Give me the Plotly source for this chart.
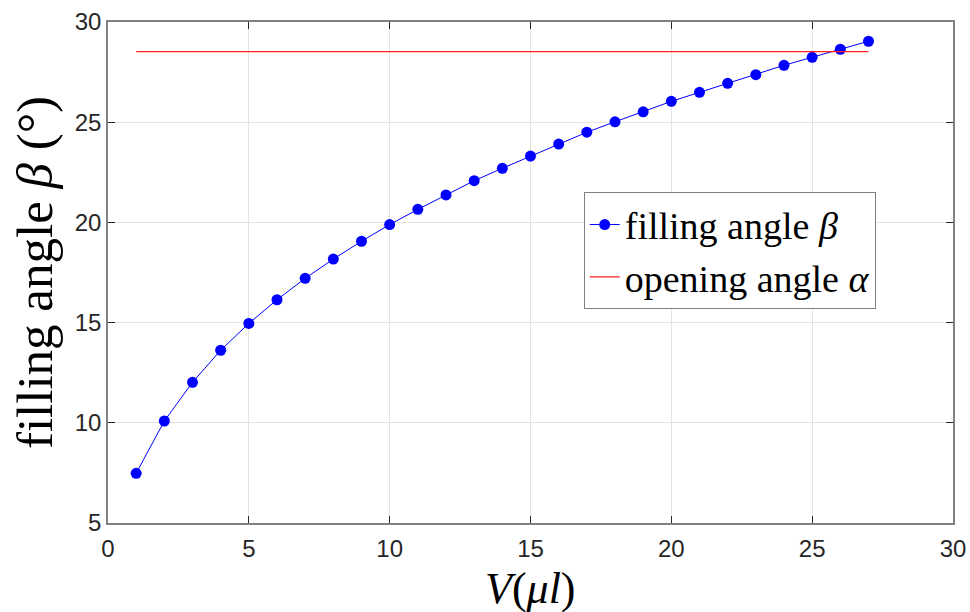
import plotly.graph_objects as go

volume = [1, 2, 3, 4, 5, 6, 7, 8, 9, 10, 11, 12, 13, 14, 15, 16, 17, 18, 19, 20, 21, 22, 23, 24, 25, 26, 27]
filling_angle = [7.48, 10.09, 12.02, 13.62, 14.96, 16.14, 17.21, 18.17, 19.06, 19.89, 20.65, 21.37,
                 22.08, 22.70, 23.31, 23.91, 24.50, 25.02, 25.52, 26.04, 26.49, 26.94, 27.37, 27.84,
                 28.24, 28.64, 29.04]
opening_x = [1, 27]
opening_angle = [28.52, 28.52]
x_ticks = [0, 5, 10, 15, 20, 25, 30]
y_ticks = [5, 10, 15, 20, 25, 30]

serif = "Liberation Serif"
fig = go.Figure()
fig.add_trace(go.Scatter(
    x=volume, y=filling_angle, mode="lines+markers",
    name="filling angle <i>β</i>",
    line=dict(color="#0000ff", width=1),
    marker=dict(color="#0000ff", size=11),
))
fig.add_trace(go.Scatter(
    x=opening_x, y=opening_angle, mode="lines",
    name="opening angle <i>α</i>",
    line=dict(color="#ff2020", width=1.3),
))

axis_common = dict(
    showgrid=True, gridcolor="#e3e3e3", gridwidth=1,
    showline=True, linecolor="#808080", linewidth=1.5, mirror="ticks",
    ticks="inside", ticklen=7, tickcolor="#262626", tickwidth=1,
    tickfont=dict(family="Liberation Sans, Arial", size=24, color="#262626"),
    zeroline=False, automargin=False,
)

fig.update_layout(
    width=970, height=612,
    margin=dict(l=108, r=17, t=22, b=89),
    paper_bgcolor="white", plot_bgcolor="white",
    xaxis=dict(range=[0, 30], tickvals=x_ticks, ticklabelstandoff=3, **axis_common),
    yaxis=dict(range=[5, 30], tickvals=y_ticks,
               title=dict(text="filling angle <i>β</i> (°)", font=dict(family=serif, size=51, color="#000"), standoff=6),
               **axis_common),
    legend=dict(
        x=0.563, y=0.66, xanchor="left", yanchor="top",
        bgcolor="white", bordercolor="#808080", borderwidth=1,
        font=dict(family=serif, size=38, color="#000"),
        itemwidth=30, tracegroupgap=0,
    ),
    showlegend=True,
    annotations=[dict(
        text="<i>V</i>(<i>μl</i>)", xref="paper", yref="paper",
        x=0.5, y=-0.13, xanchor="center", yanchor="middle",
        showarrow=False, font=dict(family=serif, size=44, color="#000"),
    )],
)

fig.write_html("out.html")
